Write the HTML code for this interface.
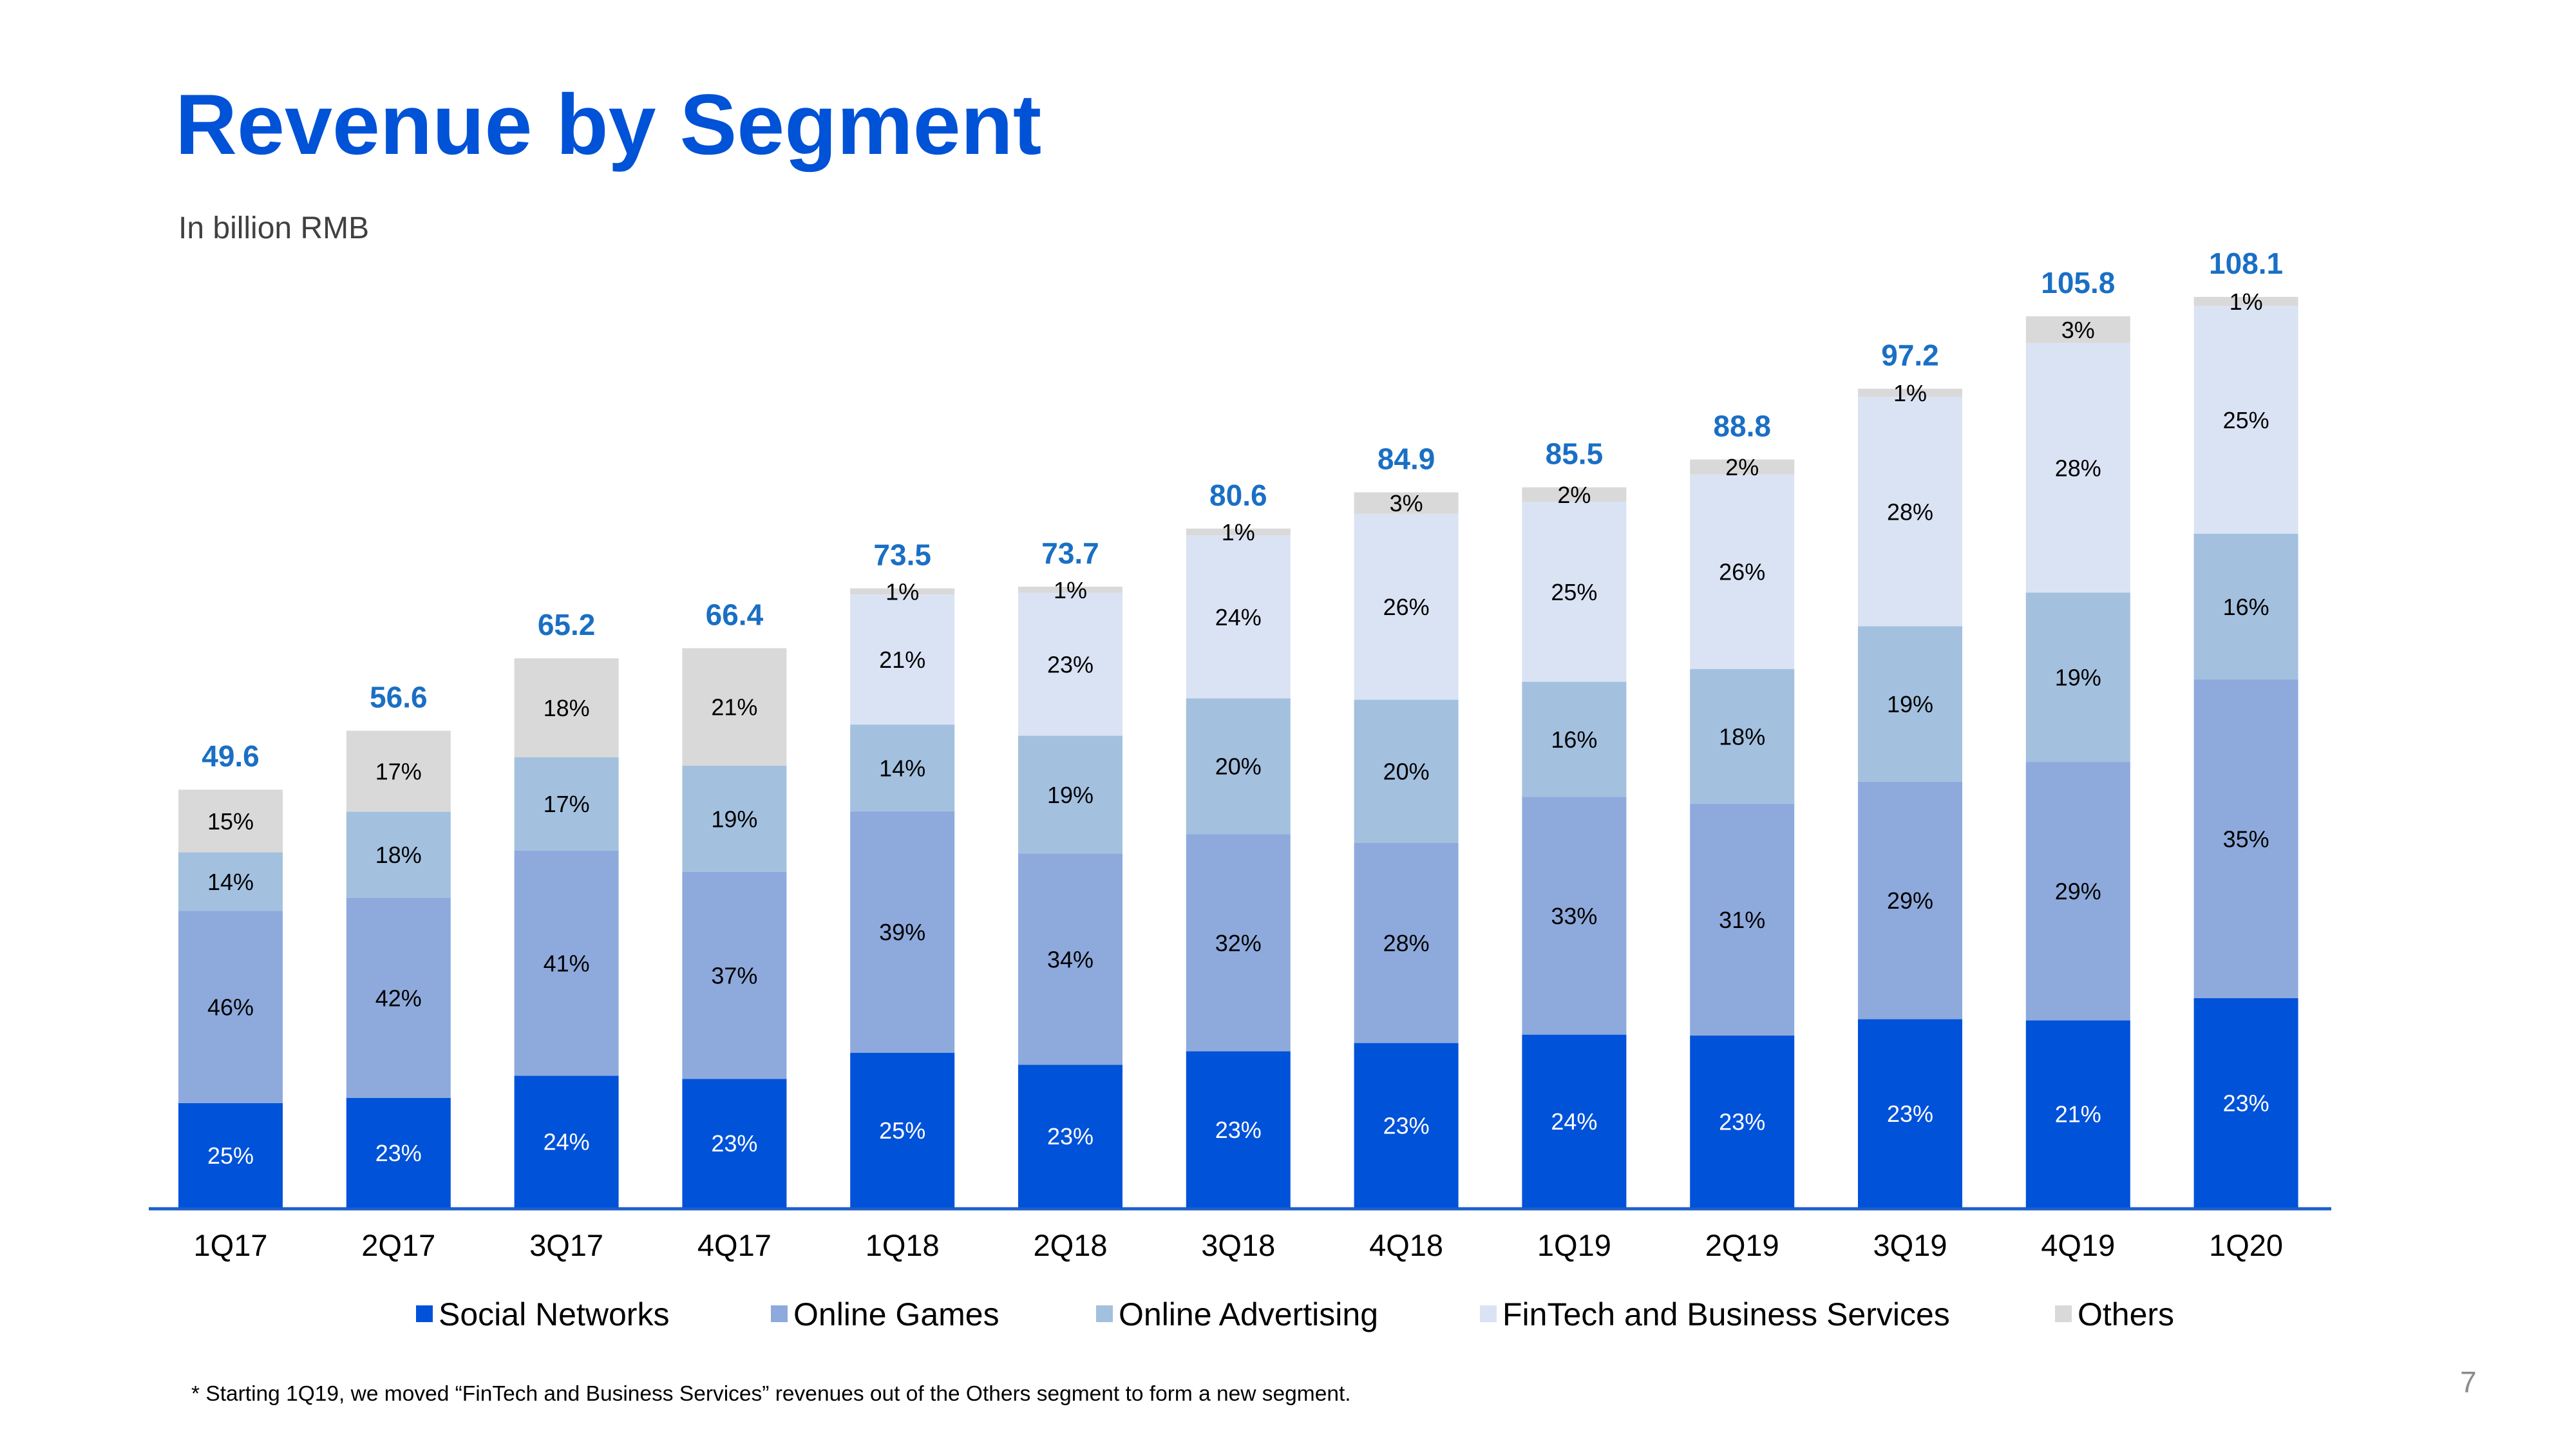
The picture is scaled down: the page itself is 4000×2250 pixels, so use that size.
<!DOCTYPE html>
<html><head><meta charset="utf-8"><style>
html,body{margin:0;padding:0;background:#fff;width:4000px;height:2250px;overflow:hidden}
svg{display:block;font-family:"Liberation Sans",Arial,sans-serif}
</style></head><body>
<svg id="s" width="4000" height="2250" viewBox="0 0 4000 2250">
<text x="272" y="239" font-size="133" font-weight="bold" fill="#0052d6">Revenue by Segment</text>
<text x="277" y="370" font-size="48" fill="#404040">In billion RMB</text>
<line x1="231" y1="1877" x2="3620" y2="1877" stroke="#1f5fc8" stroke-width="5"/>
<g id="bars"></g>
<g id="legend"></g>
<text x="297" y="2175" font-size="33.5" fill="#000">* Starting 1Q19, we moved “FinTech and Business Services” revenues out of the Others segment to form a new segment.</text>
<text x="3820" y="2162" font-size="46" fill="#8c8c8c">7</text>
</svg>
<script>
const categories=["1Q17","2Q17","3Q17","4Q17","1Q18","2Q18","3Q18","4Q18","1Q19","2Q19","3Q19","4Q19","1Q20"];
const totals=[49.6,56.6,65.2,66.4,73.5,73.7,80.6,84.9,85.5,88.8,97.2,105.8,108.1];
const socialPct=[25,23,24,23,25,23,23,23,24,23,23,21,23];
const gamesPct=[46,42,41,37,39,34,32,28,33,31,29,29,35];
const adsPct=[14,18,17,19,14,19,20,20,16,18,19,19,16];
const fintechPct=[0,0,0,0,21,23,24,26,25,26,28,28,25];
const othersPct=[15,17,18,21,1,1,1,3,2,2,1,3,1];
const seriesNames=["Social Networks","Online Games","Online Advertising","FinTech and Business Services","Others"];
const colors=["#0052d9","#8eaadc","#a3c0df","#dae3f4","#d9d9d9"];
const NS="http://www.w3.org/2000/svg";
const base=1875, unit=13.08, x0=277, bw=162, step=260.8;
const yScale=v=>base-v*unit;
const xScale=i=>x0+i*step;
const series=[socialPct,gamesPct,adsPct,fintechPct,othersPct];
const keys=["social","games","ads","fintech","others"];
const g=document.getElementById('bars');
function mk(tag,attrs){const e=document.createElementNS(NS,tag);for(const k in attrs)e.setAttribute(k,attrs[k]);return e;}
categories.forEach((c,i)=>{
  const x=xScale(i);
  let cum=0;
  series.forEach((arr,s)=>{
    const p=arr[i]; if(!p) return;
    const v0=totals[i]*cum/100, v1=totals[i]*(cum+p)/100;
    cum+=p;
    const r=mk('rect',{x:x,y:yScale(v1),width:bw,height:yScale(v0)-yScale(v1),fill:colors[s]});
    
    
    g.appendChild(r);
    const t=mk('text',{x:x+bw/2,y:(yScale(v0)+yScale(v1))/2+13,'font-size':36,'text-anchor':'middle',fill:s===0?'#fff':'#000'});
    t.textContent=p+'%';
    
    
    g.appendChild(t);
  });
  const tt=mk('text',{x:x+bw/2,y:yScale(totals[i])-36,'font-size':46,'font-weight':'bold','text-anchor':'middle',fill:'#1a6fc4'});
  tt.textContent=totals[i].toFixed(1);
  
  
  g.appendChild(tt);
  const xl=mk('text',{x:x+bw/2,y:1950,'font-size':47,'text-anchor':'middle',fill:'#000'});
  xl.textContent=c;
  
  
  g.appendChild(xl);
});
const legX=[646,1197,1702,2298,3191];
const lg=document.getElementById('legend');
seriesNames.forEach((n,s)=>{
  const r=mk('rect',{x:legX[s],y:2027,width:26,height:26,fill:colors[s]});
  
  
  lg.appendChild(r);
  const t=mk('text',{x:legX[s]+35,y:2058,'font-size':50,fill:'#000'});
  t.textContent=n;
  
  
  lg.appendChild(t);
});
</script>
</body></html>
